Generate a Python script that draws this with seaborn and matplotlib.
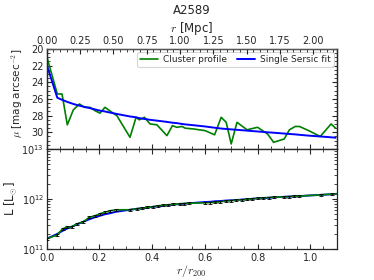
import numpy as np
import pandas as pd
import matplotlib
matplotlib.use("Agg")
import matplotlib.pyplot as plt
import seaborn as sns
from matplotlib.ticker import MultipleLocator, FixedLocator

sns.set_style("ticks")
plt.rcParams['font.family'] = ['DejaVu Sans']
plt.rcParams['mathtext.fontset'] = 'cm'

title = "A2589"
r200_mpc = 1.977

# Top panel: surface brightness profile
prof_x = [0.0, 0.040, 0.058, 0.078, 0.101, 0.124, 0.143, 0.164, 0.183, 0.202,
          0.221, 0.243, 0.266, 0.316, 0.339, 0.351, 0.371, 0.392, 0.418, 0.456,
          0.477, 0.494, 0.513, 0.525, 0.557, 0.601, 0.637, 0.662, 0.681, 0.700,
          0.722, 0.760, 0.800, 0.838, 0.861, 0.901, 0.921, 0.943, 0.959, 0.994,
          1.038, 1.079, 1.096]
prof_mu = [20.9, 25.4, 25.4, 29.1, 27.3, 26.6, 27.0, 27.0, 27.4, 27.7,
           27.0, 27.5, 28.0, 30.6, 28.2, 28.5, 28.2, 29.0, 29.1, 30.4,
           29.2, 29.4, 29.3, 29.5, 29.6, 29.8, 30.3, 28.2, 28.8, 31.4,
           28.8, 29.7, 29.4, 30.2, 31.2, 30.8, 29.7, 29.3, 29.3, 29.8,
           30.5, 29.0, 29.5]
fit_mu = [21.9, 25.85, 26.1, 26.35, 26.6, 26.8, 26.95, 27.1, 27.25, 27.4,
          27.5, 27.65, 27.8, 28.1, 28.2, 28.3, 28.4, 28.5, 28.6, 28.75,
          28.85, 28.9, 29.0, 29.05, 29.15, 29.3, 29.45, 29.55, 29.6, 29.65,
          29.7, 29.8, 29.9, 30.0, 30.05, 30.15, 30.2, 30.25, 30.3, 30.4,
          30.5, 30.6, 30.65]
mu_ticks = [20, 22, 24, 26, 28, 30]

# Bottom panel: cumulative luminosity (log10 L / 1e11)
lum_x = [0.0, 0.038, 0.061, 0.076, 0.095, 0.116, 0.139, 0.162, 0.183, 0.202,
         0.221, 0.240, 0.263, 0.316, 0.342, 0.361, 0.380, 0.403, 0.424, 0.443,
         0.462, 0.481, 0.504, 0.521, 0.538, 0.601, 0.620, 0.639, 0.658, 0.681,
         0.699, 0.719, 0.741, 0.760, 0.780, 0.801, 0.820, 0.842, 0.861, 0.901,
         0.921, 0.940, 0.959, 1.042, 1.082, 1.100]
lum_log = [0.20, 0.27, 0.40, 0.43, 0.44, 0.50, 0.54, 0.63, 0.66, 0.70,
           0.73, 0.76, 0.78, 0.78, 0.80, 0.81, 0.83, 0.84, 0.86, 0.87,
           0.88, 0.89, 0.90, 0.905, 0.91, 0.92, 0.925, 0.93, 0.94, 0.955,
           0.965, 0.975, 0.98, 0.99, 1.00, 1.01, 1.02, 1.025, 1.03, 1.04,
           1.045, 1.05, 1.055, 1.08, 1.095, 1.10]
fit_log = [0.20, 0.29, 0.36, 0.40, 0.44, 0.49, 0.54, 0.59, 0.63, 0.66,
           0.69, 0.71, 0.74, 0.78, 0.80, 0.81, 0.82, 0.84, 0.85, 0.86,
           0.875, 0.885, 0.895, 0.90, 0.91, 0.935, 0.94, 0.95, 0.955, 0.965,
           0.97, 0.975, 0.985, 0.99, 1.00, 1.01, 1.015, 1.02, 1.03, 1.04,
           1.045, 1.05, 1.055, 1.08, 1.09, 1.10]

lum = 1e11 * 10 ** np.array(lum_log)
lum_fit = 1e11 * 10 ** np.array(fit_log)

df_top = pd.DataFrame({"x": prof_x, "mu": prof_mu, "fit": fit_mu})
df_bot = pd.DataFrame({"x": lum_x, "L": lum, "fit": lum_fit})
df_err = df_bot.iloc[:-1]

fig = plt.figure(figsize=(3.74, 2.80), dpi=100)
ax1 = fig.add_axes([0.125, 0.468, 0.775, 0.357])
ax2 = fig.add_axes([0.125, 0.112, 0.775, 0.356])

sns.lineplot(data=df_top, x="x", y="mu", ax=ax1, color="green", lw=1.2,
             label="Cluster profile", sort=False, estimator=None)
sns.lineplot(data=df_top, x="x", y="fit", ax=ax1, color="blue", lw=1.4,
             label="Single Sersic fit", sort=False, estimator=None)
ax1.set_xlim(0, 1.1)
ax1.set_ylim(32, 20)
ax1.set_xlabel("")
ax1.set_ylabel(r"$\mu$ [mag arcsec$^{-2}$]", fontsize=7.5, labelpad=1)
ax1.yaxis.set_label_coords(-0.075, 0.56)
ax1.yaxis.set_major_locator(FixedLocator(mu_ticks))
ax1.yaxis.set_minor_locator(MultipleLocator(0.5))
ax1.xaxis.set_major_locator(MultipleLocator(0.2))
ax1.xaxis.set_minor_locator(MultipleLocator(0.05))
ax1.tick_params(axis='both', which='both', direction='in', top=False, right=True,
                labelsize=7, labelbottom=False, pad=2)
ax1.tick_params(which='major', length=3.5)
ax1.tick_params(which='minor', length=2)
leg = ax1.legend(loc="upper right", ncol=2, fontsize=6.5, frameon=True,
                 handlelength=2.0, columnspacing=1.0, borderpad=0.35,
                 borderaxespad=0.3, handletextpad=0.6)
leg.get_frame().set_edgecolor("#cccccc")
leg.get_frame().set_linewidth(0.8)

axt = ax1.twiny()
axt.set_xlim(0, 1.1 * r200_mpc)
axt.xaxis.set_major_locator(MultipleLocator(0.25))
axt.xaxis.set_minor_locator(MultipleLocator(0.05))
axt.tick_params(axis='x', which='both', direction='in', labelsize=7, pad=2)
axt.tick_params(which='major', length=3.5)
axt.tick_params(which='minor', length=2)
axt.set_xlabel(r"$r$ [Mpc]", fontsize=8.5, labelpad=3)
axt.set_title(title, fontsize=8.5, pad=4)

ax2.errorbar(df_err["x"], df_err["L"], yerr=df_err["L"] * 0.045, fmt="none",
             ecolor="black", elinewidth=0.7, capsize=1.3, capthick=0.6, zorder=3)
sns.lineplot(data=df_bot, x="x", y="fit", ax=ax2, color="blue", lw=1.4,
             sort=False, estimator=None, zorder=2)
sns.lineplot(data=df_bot, x="x", y="L", ax=ax2, color="green", lw=1.2,
             sort=False, estimator=None, zorder=2.5)
ax2.set_yscale("log")
ax2.set_xlim(0, 1.1)
ax2.set_ylim(1e11, 1e13)
ax2.set_xlabel(r"$r/r_{200}$", fontsize=8.5, labelpad=0)
ax2.set_ylabel(r"L [L$_{\odot}$]", fontsize=8.5, labelpad=2)
ax2.xaxis.set_major_locator(MultipleLocator(0.2))
ax2.xaxis.set_minor_locator(MultipleLocator(0.05))
ax2.tick_params(axis='both', which='both', direction='in', top=True, right=True,
                labelsize=7, pad=2)
ax2.tick_params(axis='x', pad=3)
ax2.tick_params(which='major', length=3.5)
ax2.tick_params(which='minor', length=2)

for ax in (ax1, axt, ax2):
    for s in ax.spines.values():
        s.set_linewidth(0.9)
ax1.spines['bottom'].set_color('#777777')
ax2.spines['top'].set_color('#777777')
axt.spines['top'].set_color('#555555')

fig.savefig("out.png", dpi=100)
